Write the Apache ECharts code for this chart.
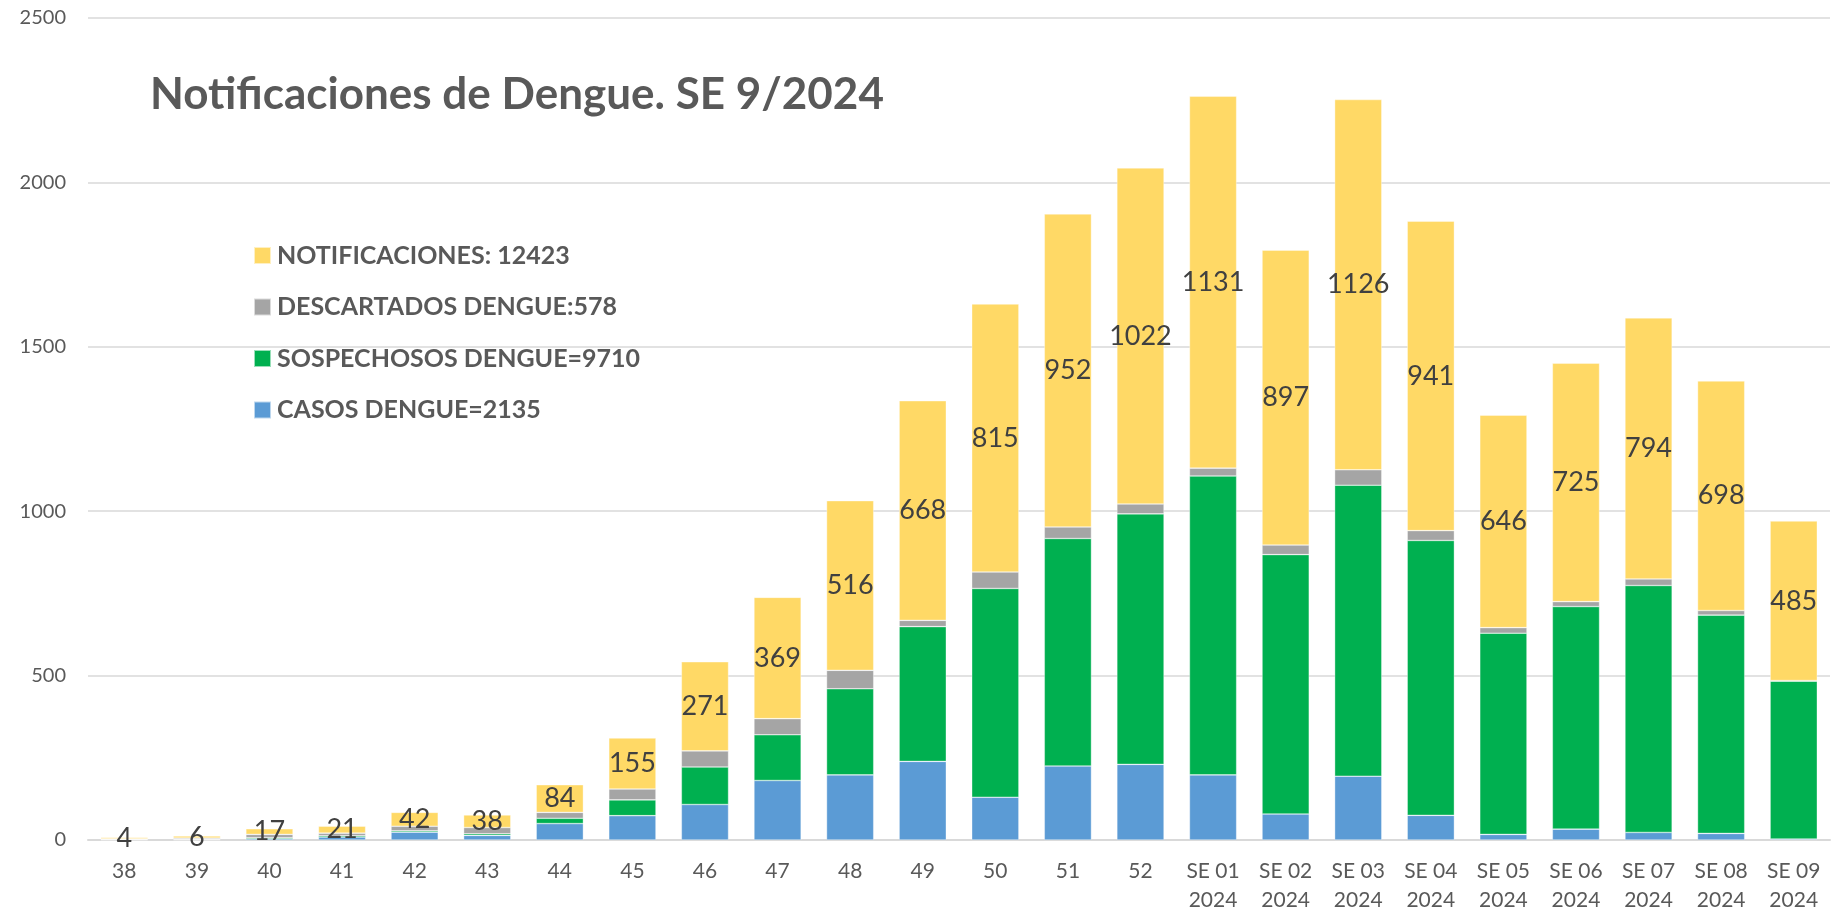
<!DOCTYPE html>
<html>
<head>
<meta charset="utf-8">
<script src="https://cdn.jsdelivr.net/npm/echarts@6/dist/echarts.min.js"></script>
<style>html,body{margin:0;padding:0;background:#fff;}#c{width:1840px;height:912px;}</style>
</head>
<body>
<div id="c"></div>
<script>
var categories = ['38','39','40','41','42','43','44','45','46','47','48','49','50','51','52',
  'SE 01\n2024','SE 02\n2024','SE 03\n2024','SE 04\n2024','SE 05\n2024','SE 06\n2024','SE 07\n2024','SE 08\n2024','SE 09\n2024'];
var casos = [1,1,4,9,24,14,50,74,108,181,198,239,130,225,230,198,79,194,75,17,33,23,20,3];
var sospechosos = [1,2,3,4,4,5,16,48,114,139,262,410,635,692,762,909,789,885,836,612,677,751,664,480];
var descartados = [2,3,10,8,14,19,18,33,49,49,56,19,50,35,30,24,29,47,30,17,15,20,14,2];
var notificaciones = [4,6,17,21,42,38,84,155,271,369,516,668,815,952,1022,1131,897,1126,941,646,725,794,698,485];
var legendNames = ['NOTIFICACIONES: 12423','DESCARTADOS DENGUE:578','SOSPECHOSOS DENGUE=9710','CASOS DENGUE=2135'];
var yTicks = [0,500,1000,1500,2000,2500];

var font = 'Lato, "Open Sans", sans-serif';
var chart = echarts.init(document.getElementById('c'), null, {renderer:'canvas'});
function bar(name, data, color, label) {
  var s = {
    name: name, type: 'bar', stack: 'total', data: data,
    barCategoryGap: '35%',
    itemStyle: {color: color, borderColor: 'rgba(255,255,255,0.6)', borderWidth: 0.6},
    emphasis: {disabled: true}
  };
  if (label) {
    s.label = {show: true, position: 'inside', color: '#404040', fontFamily: font, fontSize: 27};
  }
  return s;
}
chart.setOption({
  animation: false,
  backgroundColor: '#fff',
  title: {
    text: 'Notificaciones de Dengue. SE 9/2024',
    left: 145, top: 68,
    textStyle: {fontFamily: font, fontSize: 44, fontWeight: 'bold', color: '#595959'}
  },
  legend: {
    orient: 'vertical', left: 248, top: 238,
    itemWidth: 17, itemHeight: 17, itemGap: 26.5,
    icon: 'rect',
    data: legendNames,
    textStyle: {fontFamily: font, fontSize: 25, fontWeight: 'bold', color: '#595959', padding: [0,0,0,1]},
    selectedMode: false
  },
  grid: {left: 88, right: 10, top: 18, bottom: 72, containLabel: false, outerBoundsMode: 'none'},
  xAxis: {
    type: 'category', data: categories,
    axisLine: {show: true, lineStyle: {color: '#D9D9D9', width: 2}},
    axisTick: {show: false},
    axisLabel: {fontFamily: font, fontSize: 21, color: '#595959', margin: 17, lineHeight: 29, interval: 0}
  },
  yAxis: {
    type: 'value', min: yTicks[0], max: yTicks[yTicks.length-1], interval: 500,
    axisLine: {show: false}, axisTick: {show: false},
    splitLine: {lineStyle: {color: '#D9D9D9', width: 1.5}},
    axisLabel: {fontFamily: font, fontSize: 20, color: '#595959', margin: 22,
      formatter: function (v) { return String(v); }}
  },
  series: [
    bar(legendNames[3], casos, '#5B9BD5'),
    bar(legendNames[2], sospechosos, '#00B050'),
    bar(legendNames[1], descartados, '#A5A5A5'),
    bar(legendNames[0], notificaciones, '#FFD966', true)
  ]
});
</script>
</body>
</html>
